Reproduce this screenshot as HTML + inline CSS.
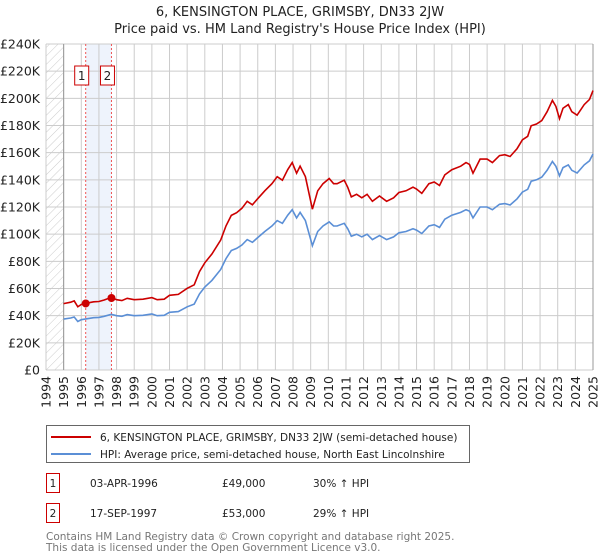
<!DOCTYPE html>
<html><head><meta charset="utf-8"><style>
body{margin:0;background:#fff;font-family:"Liberation Sans","DejaVu Sans",sans-serif;}
#wrap{position:relative;width:600px;height:560px;overflow:hidden;}
svg text{font-family:"DejaVu Sans","Liberation Sans",sans-serif;}
</style></head><body>
<div id="wrap">
<svg id="chart" width="600" height="560"></svg>
</div>
<script>
const hpiYears=[1995.0,1995.4,1995.6,1995.8,1996.0,1996.3,1996.7,1997.0,1997.3,1997.7,1998.0,1998.3,1998.6,1999.0,1999.5,2000.0,2000.3,2000.7,2001.0,2001.5,2002.0,2002.4,2002.7,2003.0,2003.4,2003.9,2004.2,2004.5,2004.8,2005.1,2005.4,2005.7,2006.0,2006.4,2006.8,2007.1,2007.4,2007.7,2007.95,2008.2,2008.4,2008.7,2009.1,2009.4,2009.7,2010.05,2010.3,2010.5,2010.9,2011.1,2011.3,2011.6,2011.9,2012.2,2012.5,2012.9,2013.3,2013.7,2014.0,2014.4,2014.8,2015.0,2015.3,2015.7,2016.0,2016.3,2016.6,2017.0,2017.5,2017.8,2018.0,2018.2,2018.6,2019.0,2019.3,2019.7,2020.0,2020.3,2020.7,2021.0,2021.3,2021.5,2021.8,2022.1,2022.4,2022.7,2022.9,2023.1,2023.3,2023.6,2023.8,2024.1,2024.5,2024.8,2025.0];
const hpiValues=[37.5,38.3,39,35.7,37,37.7,38.5,38.7,39.5,41,40,39.5,40.8,40,40.3,41.2,40,40.3,42.5,43,46.5,48.5,56,61,66,74,82,88,89.5,92,96,94,97.5,102,106,110,108,114,118,112,116,110,91.5,102,106,109,106,106,108,104,98.5,100,98,100,96,99,96,98,101,102,104,103,100.5,106,107,105,111,114,116,118,117,112,120,120,118,122,122.5,121.5,126,131,133,139,140,142,147,153.5,150,143,149,151,147,145,151,154,159];
const saleYears=[1996.25,1997.71];
const salePrices=[49000,53000];
const saleLabels=["1","2"];
const yTicks=[0,20,40,60,80,100,120,140,160,180,200,220,240];
const xTicks=[1994,1995,1996,1997,1998,1999,2000,2001,2002,2003,2004,2005,2006,2007,2008,2009,2010,2011,2012,2013,2014,2015,2016,2017,2018,2019,2020,2021,2022,2023,2024,2025];

const X0=46,X1=593,Y0=370,Y1=44;
const xs=y=>X0+(y-1994)/(2025-1994)*(X1-X0);
const ys=v=>Y0-v/240*(Y0-Y1);
const NS="http://www.w3.org/2000/svg";
const svg=document.getElementById('chart');
function mk(t,a,p){const e=document.createElementNS(NS,t);for(const k in a)e.setAttribute(k,a[k]);(p||svg).appendChild(e);return e;}
function interp(t){for(let i=0;i<hpiYears.length-1;i++){if(t>=hpiYears[i]&&t<=hpiYears[i+1]){const f=(t-hpiYears[i])/(hpiYears[i+1]-hpiYears[i]);return hpiValues[i]+f*(hpiValues[i+1]-hpiValues[i]);}}return hpiValues[0];}

// title
let t=mk('text',{x:300,y:16,'text-anchor':'middle','font-size':13,fill:'#222'});t.textContent="6, KENSINGTON PLACE, GRIMSBY, DN33 2JW";

t=mk('text',{x:300,y:33,'text-anchor':'middle','font-size':13,fill:'#222'});t.textContent="Price paid vs. HM Land Registry's House Price Index (HPI)";


// hatch
const defs=mk('defs',{});
const pat=mk('pattern',{id:'hatch',width:6,height:6,patternUnits:'userSpaceOnUse',patternTransform:'rotate(45)'},defs);
mk('line',{x1:0,y1:0,x2:0,y2:6,stroke:'#ccc','stroke-width':1},pat);
let h=mk('rect',{x:X0,y:Y1,width:xs(1995)-X0,height:Y0-Y1,fill:'url(#hatch)'});

// shaded band
let b=mk('rect',{x:xs(saleYears[0]),y:Y1,width:xs(saleYears[1])-xs(saleYears[0]),height:Y0-Y1,fill:'#eef3fc'});


// grid
yTicks.forEach(v=>{const l=mk('line',{x1:X0,x2:X1,y1:ys(v),y2:ys(v),stroke:'#ccc','stroke-width':1});

const tx=mk('text',{x:40,y:ys(v)+4.5,'text-anchor':'end','font-size':12.5,fill:'#222'});tx.textContent='£'+(v===0?'0':v+'K');
});
xTicks.forEach(y=>{const l=mk('line',{x1:xs(y),x2:xs(y),y1:Y1,y2:Y0,stroke:'#ccc','stroke-width':1});

const tx=mk('text',{x:0,y:0,'text-anchor':'end','font-size':12.5,fill:'#222',transform:`translate(${xs(y)+4.5},${Y0+6}) rotate(-90)`});tx.textContent=y;
});
let ax=mk('line',{x1:xs(1995),x2:xs(1995),y1:Y1,y2:Y0,stroke:'#999','stroke-width':1});

ax=mk('line',{x1:X1,x2:X1,y1:Y1,y2:Y0,stroke:'#999','stroke-width':1});


// sale markers lines
saleYears.forEach((s,i)=>{const l=mk('line',{x1:xs(s),x2:xs(s),y1:Y1,y2:Y0,stroke:'#e55','stroke-width':1,'stroke-dasharray':'2,2'});

const bx=xs(s)-9-(i===0?7:0)+(i===0?0:0);
const g=mk('g',{});
const cx=i===0?xs(s)-4:xs(s)-4;
mk('rect',{x:cx-7,y:66,width:14,height:19,fill:'#fff',stroke:'#c00','stroke-width':1},g);
const tx=mk('text',{x:cx,y:80,'text-anchor':'middle','font-size':12,fill:'#222'},g);tx.textContent=saleLabels[i];});

// HPI line
const hp=hpiYears.map((y,i)=>(i?'L':'M')+xs(y).toFixed(1)+','+ys(hpiValues[i]).toFixed(1)).join('');
let p=mk('path',{d:hp,fill:'none',stroke:'#5b8fd6','stroke-width':1.6});

// price line
const sc=saleYears.map((s,i)=>salePrices[i]/1000/interp(s));
const pp=hpiYears.map((y,i)=>{const k=y<saleYears[1]?sc[0]:sc[1];return (i?'L':'M')+xs(y).toFixed(1)+','+ys(hpiValues[i]*k).toFixed(1);}).join('');
p=mk('path',{d:pp,fill:'none',stroke:'#cc0000','stroke-width':1.6});

saleYears.forEach((s,i)=>{const c=mk('circle',{cx:xs(s),cy:ys(salePrices[i]/1000),r:4,fill:'#cc0000'});
});

// legend
const lg=mk('g',{});
mk('rect',{x:46.5,y:425.5,width:423,height:37,fill:'#fff',stroke:'#666','stroke-width':1},lg);
mk('line',{x1:51,x2:91,y1:437,y2:437,stroke:'#cc0000','stroke-width':2},lg);
mk('line',{x1:51,x2:91,y1:454,y2:454,stroke:'#5b8fd6','stroke-width':2},lg);
let e=mk('text',{x:100,y:441,'font-size':10.5,fill:'#222'},lg);e.textContent="6, KENSINGTON PLACE, GRIMSBY, DN33 2JW (semi-detached house)";

e=mk('text',{x:100,y:458,'font-size':10.5,fill:'#222'},lg);e.textContent="HPI: Average price, semi-detached house, North East Lincolnshire";


// table
const rows=[["1","03-APR-1996","£49,000","30% ↑ HPI"],["2","17-SEP-1997","£53,000","29% ↑ HPI"]];
rows.forEach((r,i)=>{const y=487+i*30;const g=mk('g',{});
mk('rect',{x:46.5,y:y-13.5,width:13,height:19,fill:'#fff',stroke:'#c00','stroke-width':1},g);
let a=mk('text',{x:53,y:y,'text-anchor':'middle','font-size':10.5,fill:'#222'},g);a.textContent=r[0];
a=mk('text',{x:90,y:y,'font-size':10.5,fill:'#222'},g);a.textContent=r[1];
a=mk('text',{x:222,y:y,'font-size':10.5,fill:'#222'},g);a.textContent=r[2];
a=mk('text',{x:313,y:y,'font-size':10.5,fill:'#222'},g);a.textContent=r[3];});
let f=mk('text',{x:46,y:540,'font-size':10.5,fill:'#777'});f.textContent="Contains HM Land Registry data © Crown copyright and database right 2025.";

f=mk('text',{x:46,y:551,'font-size':10.5,fill:'#777'});f.textContent="This data is licensed under the Open Government Licence v3.0.";

</script>
</body></html>
